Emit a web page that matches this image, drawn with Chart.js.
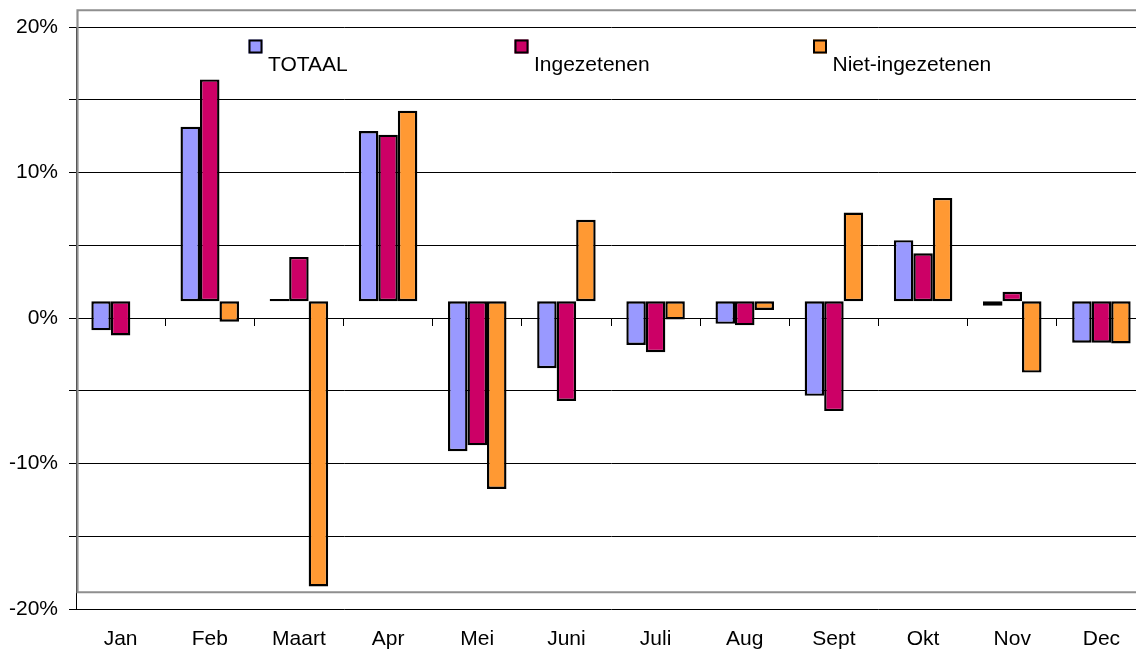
<!DOCTYPE html>
<html>
<head>
<meta charset="utf-8">
<title>Maandelijkse mutatie</title>
<script src="https://cdn.jsdelivr.net/npm/chart.js@4/dist/chart.umd.min.js"></script>
<style>
    html, body { margin: 0; padding: 0; background: #fff; overflow: hidden; }
    #wrap { position: relative; width: 1160px; height: 654px; }
</style>
</head>
<body>
<div id="wrap"><canvas id="chart"></canvas></div>
<script>
// maanden en procentuele mutaties per groep
var months = ['Jan', 'Feb', 'Maart', 'Apr', 'Mei', 'Juni', 'Juli', 'Aug', 'Sept', 'Okt', 'Nov', 'Dec'];
var totaal = [-2.0, 12.0, 0.15, 11.7, -10.3, -4.6, -3.0, -1.55, -6.5, 4.2, -0.3, -2.85];
var ingezetenen = [-2.35, 15.25, 3.05, 11.45, -9.9, -6.85, -3.5, -1.65, -7.55, 3.3, 0.65, -2.85];
var nietIngezetenen = [null, -1.4, -19.6, 13.1, -12.9, 5.6, -1.25, -0.6, 6.1, 7.1, -4.9, -2.9];
var seriesNames = ['TOTAAL', 'Ingezetenen', 'Niet-ingezetenen'];
var seriesColors = ['#9999FF', '#CC0066', '#FF9933'];
var yTicks = [-20, -10, 0, 10, 20];

(function() {
    var FONT = "'Liberation Sans', Arial, sans-serif";
    // het plotvlak (staven + grijze rand) ligt iets hoger dan de assen
    var SHIFT = 1.15;

    var makeSet = function(idx, values) {
        return {
            label: seriesNames[idx],
            data: values,
            yAxisID: 'yb',
            backgroundColor: seriesColors[idx],
            borderColor: '#000',
            borderWidth: 2.4,
            borderSkipped: false,
            categoryPercentage: 0.656,
            barPercentage: 1.0
        };
    };

    // grijze rand van het plotvlak
    var plotFrame = {
        id: 'plotFrame',
        beforeDatasetsDraw: function(chart) {
            var yb = chart.scales.yb, area = chart.chartArea, ctx = chart.ctx;
            var top = yb.getPixelForValue(20), bottom = yb.getPixelForValue(-20);
            ctx.save();
            ctx.strokeStyle = '#8f8f8f';
            ctx.lineWidth = 2.2;
            ctx.beginPath();
            ctx.moveTo(area.right + 5, top);
            ctx.lineTo(area.left + 1.5, top);
            ctx.lineTo(area.left + 1.5, bottom);
            ctx.lineTo(area.right + 5, bottom);
            ctx.stroke();
            ctx.restore();
        }
    };

    // legenda: blokje linksboven, tekst eronder rechts
    var legendX = [248.5, 514.5, 813];
    var sideLegend = {
        id: 'sideLegend',
        afterDraw: function(chart) {
            var ctx = chart.ctx;
            ctx.save();
            chart.data.datasets.forEach(function(ds, i) {
                var x = legendX[i], y = 39.5;
                ctx.fillStyle = ds.backgroundColor;
                ctx.fillRect(x, y, 14, 14);
                ctx.strokeStyle = '#000';
                ctx.lineWidth = 2;
                ctx.strokeRect(x + 1, y + 1, 12, 12);
                ctx.fillStyle = '#000';
                ctx.font = '21px ' + FONT;
                ctx.textBaseline = 'alphabetic';
                ctx.textAlign = 'left';
                ctx.fillText(ds.label, x + 19.5, 71);
            });
            ctx.restore();
        }
    };

    var chart = new Chart(document.getElementById('chart'), {
        type: 'bar',
        data: {
            labels: months,
            datasets: [makeSet(0, totaal), makeSet(1, ingezetenen), makeSet(2, nietIngezetenen)]
        },
        options: {
            responsive: true,
            maintainAspectRatio: false,
            animation: false,
            layout: { padding: { top: 27, right: 14, left: 0, bottom: 0 } },
            plugins: { legend: { display: false }, tooltip: { enabled: false } },
            scales: {
                x: {
                    offset: true,
                    grid: { display: false },
                    border: { display: false },
                    ticks: { color: '#000', padding: 10, font: { family: FONT, size: 21 } },
                    afterFit: function(scale) { scale.height = 45; }
                },
                x0: {
                    type: 'category',
                    axis: 'x',
                    position: { y: 0 },
                    offset: true,
                    grid: { offset: true, drawOnChartArea: false, drawTicks: true, tickLength: 7, color: '#000', lineWidth: 1 },
                    border: { display: true, color: '#000', width: 1 },
                    ticks: { display: false }
                },
                y: {
                    min: -20,
                    max: 20,
                    afterBuildTicks: function(scale) {
                        var t = [];
                        for (var v = -20; v <= 20; v += 5) t.push({ value: v });
                        scale.ticks = t;
                    },
                    grid: { color: '#000', lineWidth: 1, tickLength: 7 },
                    border: { display: true, color: '#000', width: 1 },
                    ticks: {
                        color: '#000',
                        padding: 11,
                        font: { family: FONT, size: 21 },
                        callback: function(v) { return yTicks.indexOf(v) >= 0 ? v + '%' : ''; }
                    },
                    afterFit: function(scale) { scale.width = 76; }
                },
                yb: {
                    display: false,
                    min: -20 - SHIFT,
                    max: 20 - SHIFT
                }
            }
        },
        plugins: [plotFrame, sideLegend]
    });
    window.chart = chart;
})();
</script>
</body>
</html>
